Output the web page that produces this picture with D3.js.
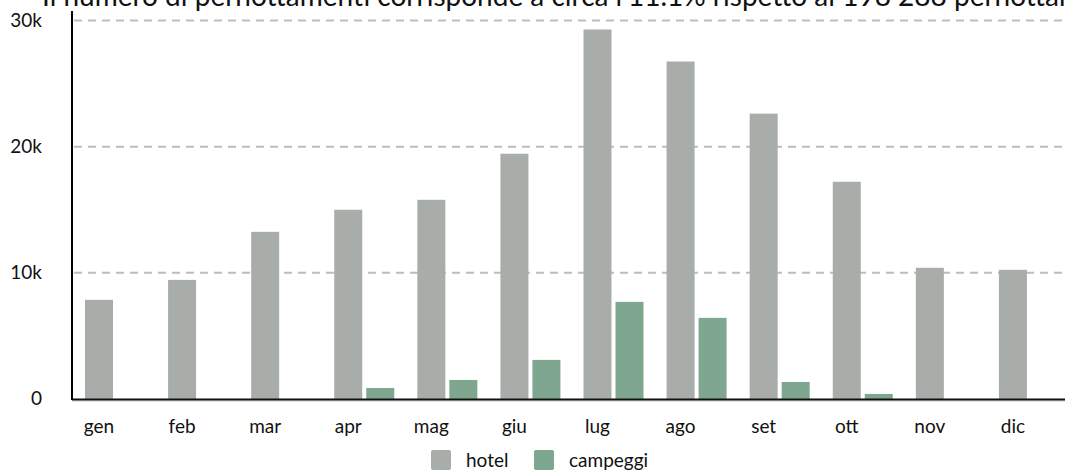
<!DOCTYPE html>
<html lang="it">
<head>
  <meta charset="UTF-8">
  <title>Pernottamenti hotel e campeggi</title>
  <script src="https://d3js.org/d3.v7.min.js"></script>
  <style>
    body { margin: 0; background: #fff; }
    svg { display: block; font-family: Lato, "Open Sans", sans-serif; }
    .tick-label { font-size: 19px; fill: #111; }
    .legend-label { font-size: 19px; fill: #111; }
  </style>
</head>
<body>
  <svg width="1065" height="470"></svg>

  <script>
    const months = ["gen", "feb", "mar", "apr", "mag", "giu", "lug", "ago", "set", "ott", "nov", "dic"];
    const seriesNames = ["hotel", "campeggi"];
    const hotel = [7860, 9440, 13250, 15000, 15790, 19440, 29290, 26750, 22620, 17220, 10400, 10240];
    const campeggi = [0, 0, 0, 870, 1510, 3100, 7700, 6430, 1350, 400, 0, 0];
    const yTicks = [0, 10000, 20000, 30000];
    const yTickLabels = ["0", "10k", "20k", "30k"];
    const colors = ["#a8ada9", "#7fa68e"];
    const title = "Il numero di pernottamenti corrisponde a circa l'11.1% rispetto ai 198 288 pernottamenti";

    const svg = d3.select("svg");
    const plotLeft = 72, plotRight = 1069, plotTop = 11, plotBottom = 399;

    const x0 = d3.scaleBand().domain(months).range([plotLeft, plotRight]);
    const x1 = d3.scaleBand().domain(seriesNames).range([0, 60]).paddingInner(0.125);
    const y = d3.scaleLinear().domain([0, d3.max(hotel) * 1.05]).range([plotBottom, plotTop]);

    svg.append("text")
      .attr("x", 42)
      .attr("y", 6)
      .attr("font-size", 28)
      .attr("fill", "#111")
      .text(title);

    // grid lines
    svg.append("g")
      .selectAll("line")
      .data(yTicks.slice(1))
      .join("line")
      .attr("x1", plotLeft + 2)
      .attr("x2", 1065)
      .attr("y1", d => y(d))
      .attr("y2", d => y(d))
      .attr("stroke", "#bdbdbd")
      .attr("stroke-width", 2)
      .attr("stroke-dasharray", "8,6");

    // y labels
    svg.append("g")
      .selectAll("text")
      .data(yTicks)
      .join("text")
      .attr("class", "tick-label")
      .attr("x", 42)
      .attr("y", d => y(d))
      .attr("dy", "0.32em")
      .attr("text-anchor", "end")
      .text((d, i) => yTickLabels[i]);

    const rows = months.map((m, i) => ({ month: m, values: [hotel[i], campeggi[i]] }));

    svg.append("g")
      .selectAll("g")
      .data(rows)
      .join("g")
      .attr("transform", d => `translate(${x0(d.month) + 13},0)`)
      .selectAll("rect")
      .data(d => d.values.map((v, k) => ({ key: seriesNames[k], value: v, k })))
      .join("rect")
      .attr("x", d => x1(d.key))
      .attr("width", x1.bandwidth())
      .attr("y", d => y(d.value))
      .attr("height", d => plotBottom - y(d.value))
      .attr("fill", d => colors[d.k]);

    // x labels
    svg.append("g")
      .selectAll("text")
      .data(months)
      .join("text")
      .attr("class", "tick-label")
      .attr("x", d => x0(d) + 13 + x1("hotel") + x1.bandwidth() / 2)
      .attr("y", 433)
      .attr("text-anchor", "middle")
      .text(d => d);

    // axes lines
    svg.append("line")
      .attr("x1", plotLeft).attr("x2", 1065)
      .attr("y1", plotBottom + 2).attr("y2", plotBottom + 2)
      .attr("stroke", "#ccc").attr("stroke-width", 1);
    svg.append("line")
      .attr("x1", plotLeft).attr("x2", 1065)
      .attr("y1", plotBottom + 0.5).attr("y2", plotBottom + 0.5)
      .attr("stroke", "#111").attr("stroke-width", 2);
    svg.append("line")
      .attr("x1", plotLeft).attr("x2", plotLeft)
      .attr("y1", plotTop).attr("y2", plotBottom + 1)
      .attr("stroke", "#000").attr("stroke-width", 2);

    // legend
    const legendX = [431, 534];
    const legend = svg.append("g")
      .selectAll("g")
      .data(seriesNames)
      .join("g")
      .attr("transform", (d, i) => `translate(${legendX[i]},450)`);
    legend.append("rect")
      .attr("width", 20).attr("height", 20).attr("rx", 2)
      .attr("fill", (d, i) => colors[i]);
    legend.append("text")
      .attr("class", "legend-label")
      .attr("x", 35)
      .attr("y", 17)
      .text(d => d);
  </script>
</body>
</html>
